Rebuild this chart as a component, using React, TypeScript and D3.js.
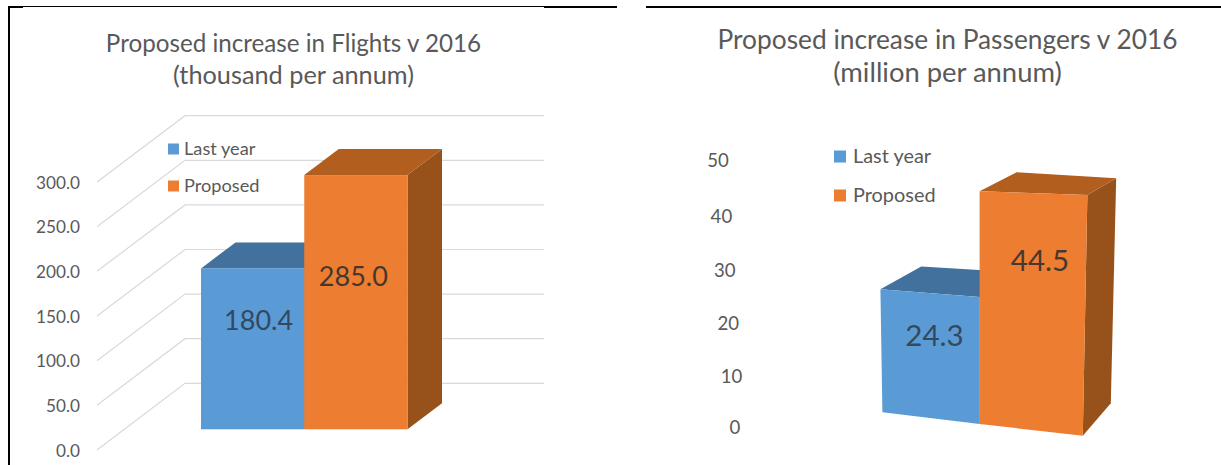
import React from "react";
import * as d3 from "d3";

// Flights panel
const flightSeries = ["Last year", "Proposed"];
const flightValues = [180.4, 285.0];
const flightTicks = [0, 50, 100, 150, 200, 250, 300];
const flightTitle = ["Proposed increase in Flights v 2016", "(thousand per annum)"];

// Passengers panel
const passengerSeries = ["Last year", "Proposed"];
const passengerValues = [24.3, 44.5];
const passengerTicks = [0, 10, 20, 30, 40, 50];
const passengerTitle = ["Proposed increase in Passengers v 2016", "(million per annum)"];

const FONT = "Lato, 'Open Sans', sans-serif";
const TEXT = "#595959";
const GRID = "#D9D9D9";
const FILLS = [
  { front: "#5B9BD5", top: "#41719C", side: "#41719C", label: "#34485F" },
  { front: "#ED7D31", top: "#B25E1F", side: "#97511B", label: "#47372C" },
];

type Pt = [number, number];
const poly = (pts: Pt[]) => pts.map((p) => p.join(",")).join(" ");

function FlightsPanel() {
  const top = 300;
  // The same value axis seen on three planes: axis edge, bar front, back wall.
  const yAxis = d3.scaleLinear().domain([0, top]).range([450, 182]);
  const yFront = d3.scaleLinear().domain([0, top]).range([429.3, 161.7]);
  const yWall = d3.scaleLinear().domain([0, top]).range([383.3, 115.7]);
  const x = d3.scaleBand<number>().domain([0, 1]).range([201, 407.5]);
  const depth: Pt = [34.5, -26];

  return (
    <g>
      {flightTitle.map((t, i) => (
        <text key={t} x={293.5} y={52 + i * 32} textAnchor="middle" fontSize={i === 0 ? 24.2 : 25.3} fill={TEXT} fontFamily={FONT}>
          {t}
        </text>
      ))}
      {flightTicks.map((v) => (
        <g key={v}>
          <polyline
            points={poly([[97, yAxis(v)], [185, yWall(v)], [544, yWall(v)]])}
            fill="none"
            stroke={GRID}
            strokeWidth={1.2}
          />
          <text x={80} y={yAxis(v) + 6.5} textAnchor="end" fontSize={17.2} fill={TEXT} fontFamily={FONT}>
            {v.toFixed(1)}
          </text>
        </g>
      ))}
      {flightValues.map((v, i) => {
        const x0 = x(i)!;
        const x1 = x0 + x.bandwidth();
        const yb = yFront(0);
        const yt = yFront(v);
        const [dx, dy] = depth;
        return (
          <g key={flightSeries[i]}>
            <polygon points={poly([[x1, yt], [x1 + dx, yt + dy], [x1 + dx, yb + dy], [x1, yb]])} fill={FILLS[i].side} />
            <polygon points={poly([[x0, yt], [x0 + dx, yt + dy], [x1 + dx, yt + dy], [x1, yt]])} fill={FILLS[i].top} />
            <rect x={x0} y={yt} width={x1 - x0} height={yb - yt} fill={FILLS[i].front} />
            <text
              x={(x0 + x1) / 2 + (i === 0 ? 6 : -2.5)}
              y={yt + (i === 0 ? 62 : 111)}
              textAnchor="middle"
              fontSize={27}
              fill={FILLS[i].label}
              fontFamily={FONT}
            >
              {v.toFixed(1)}
            </text>
          </g>
        );
      })}
      {flightSeries.map((s, i) => (
        <g key={s}>
          <rect x={168} y={143.5 + i * 37} width={11} height={11} fill={FILLS[i].front} />
          <text x={184} y={154.5 + i * 37} fontSize={18.2} fill={TEXT} fontFamily={FONT}>
            {s}
          </text>
        </g>
      ))}
    </g>
  );
}

function PassengersPanel() {
  // Perspective view: each bar edge (column 0..2, front or back) has its own
  // base point, pixels per unit and lean; values go through these scales.
  const cols = [0, 1, 2];
  const front = {
    x: d3.scaleLinear().domain(cols).range([882.4, 979.6, 1082.8]),
    y: d3.scaleLinear().domain(cols).range([412.3, 424, 435.7]),
    k: d3.scaleLinear().domain(cols).range([5.06, 5.23, 5.41]),
    lean: d3.scaleLinear().domain(cols).range([-0.082, 0, 0.103]),
  };
  const back = {
    x: d3.scaleLinear().domain(cols).range([922, 1015.3, 1110.8]),
    y: d3.scaleLinear().domain(cols).range([381.8, 392.5, 403.3]),
    k: d3.scaleLinear().domain(cols).range([4.74, 4.95, 5.06]),
    lean: d3.scaleLinear().domain(cols).range([-0.03, 0.03, 0.121]),
  };
  const project = (plane: typeof front, col: number, v: number): Pt => [
    plane.x(col) + plane.lean(col) * v,
    plane.y(col) - plane.k(col) * v,
  ];
  // The tick column recedes with height, so its spacing is slightly uneven.
  const tickX = d3.scaleLinear().domain([0, 50]).range([735, 718]);
  const tickY = d3.scaleLinear().domain(passengerTicks).range([427.5, 376, 323, 270, 216.5, 160.7]);

  return (
    <g>
      {passengerTitle.map((t, i) => (
        <text key={t} x={947.5} y={49 + i * 33} textAnchor="middle" fontSize={i === 0 ? 26.3 : 27.4} fill={TEXT} fontFamily={FONT}>
          {t}
        </text>
      ))}
      {passengerTicks.map((v) => (
        <text key={v} x={tickX(v)} y={tickY(v) + 6.5} textAnchor="middle" fontSize={18.6} fill={TEXT} fontFamily={FONT}>
          {v}
        </text>
      ))}
      {passengerValues.map((v, i) => {
        const l = i;
        const r = i + 1;
        const fb0 = project(front, l, 0);
        const fb1 = project(front, r, 0);
        const ft0 = project(front, l, v);
        const ft1 = project(front, r, v);
        const bb1 = project(back, r, 0);
        const bt0 = project(back, l, v);
        const bt1 = project(back, r, v);
        return (
          <g key={passengerSeries[i]}>
            <polygon points={poly([ft1, bt1, bb1, fb1])} fill={FILLS[i].side} />
            <polygon points={poly([ft0, bt0, bt1, ft1])} fill={FILLS[i].top} />
            <polygon points={poly([ft0, ft1, fb1, fb0])} fill={FILLS[i].front} />
            <text
              x={(ft0[0] + ft1[0]) / 2 + (i === 0 ? 4.5 : 6.5)}
              y={(ft0[1] + ft1[1]) / 2 + (i === 0 ? 53 : 78)}
              textAnchor="middle"
              fontSize={29.5}
              fill={FILLS[i].label}
              fontFamily={FONT}
            >
              {v.toFixed(1)}
            </text>
          </g>
        );
      })}
      {passengerSeries.map((s, i) => (
        <g key={s}>
          <rect x={834} y={150.5 + i * 39} width={12} height={12} fill={FILLS[i].front} />
          <text x={853} y={162.5 + i * 39} fontSize={19.9} fill={TEXT} fontFamily={FONT}>
            {s}
          </text>
        </g>
      ))}
    </g>
  );
}

export default function App() {
  return (
    <svg
      width={1221}
      height={465}
      viewBox="0 0 1221 465"
      style={{ position: "fixed", left: 0, top: 0, background: "#fff", display: "block" }}
    >
      {/* Clipped panel borders */}
      <g fill="#000">
        <rect x={8} y={6} width={2} height={459} />
        <rect x={8} y={6} width={15} height={2} />
        <rect x={23} y={6} width={521} height={1} />
        <rect x={544} y={6} width={73} height={2} />
        <rect x={646} y={6} width={575} height={2} />
      </g>
      <FlightsPanel />
      <PassengersPanel />
    </svg>
  );
}
